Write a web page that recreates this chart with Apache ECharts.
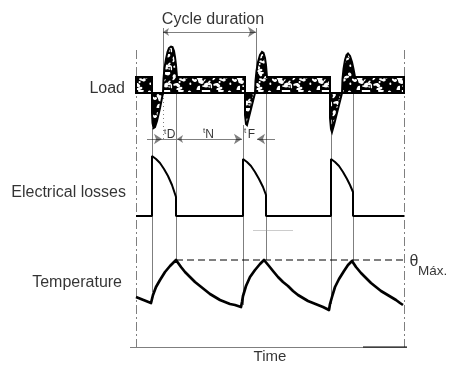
<!DOCTYPE html>
<html><head><meta charset="utf-8">
<script src="https://cdn.jsdelivr.net/npm/echarts@6/dist/echarts.min.js"></script>
<style>html,body{margin:0;padding:0;background:#fff}#c{width:451px;height:365px}</style>
</head><body><div id="c"></div>
<script>
// ---- data (time units along x; panel values along y) ----
const panelNames = ['Load', 'Electrical losses', 'Temperature'];
const timeLabel = 'Time';
const cycleLabel = 'Cycle duration';
const thetaLabel = ['θ', 'Máx.'];
const phaseLabels = [['t', 'D'], ['t', 'N'], ['t', 'F']];

// load profile (time, load); bar level 16, spikes at start/braking
const loadProfile = [
  [0,0],[0,16],[16,16],[16,0],
  [16,-20],[16.5,-30],[17.5,-35],[19,-34],[21,-28],[24,-15],[27,0],
  [27.5,14],[28.5,25],[30,34],[31.5,41],[33,45],[35,46.5],[36.5,46],[38,42],[39,36],[40,28],[41,16],
  [109,16],[109,0],
  [109,-22],[110,-31],[111,-32],[113,-24],[116,-12],[119,0],
  [119.5,12],[120.5,22],[122,31],[124,38],[126,41],[127.5,40],[129,35],[130,28],[131,16],
  [194,16],[194,0],
  [194,-25],[195,-36],[196,-39],[198,-32],[202,-16],[206,0],
  [206.5,14],[207.5,24],[209,33],[210.5,38],[212,39.5],[214,37],[216,31],[217.5,24],[219,16],
  [268,16],[268,0]
];
// electrical losses (time, losses)
const lossProfile = [
  [0,0],[16,0],[16,60],[20,57],[24,53],[28,47],[32,40],[36,31],[40,19],[40,0],
  [107,0],[107,57],[111,54],[115,50],[119,44],[123,37],[127,29],[130,21],[130,0],
  [195,0],[195,57],[199,54],[203,50],[207,44],[211,37],[214,31],[217,24],[217,0],
  [268,0]
];
// temperature (time, temperature)
const tempProfile = [
  [0,50],[15,44],[16,48],[17,52],[20,60],[24,67],[29,75],[34,81],[40,87],
  [45,80],[49,75],[54,70],[59,65],[64,61],[69,57],[74,53],[79,50],[84,47],[89,45],[94,43],[99,42],[105,40],
  [106,45],[107,51],[110,61],[114,70],[119,77],[124,83],[128,87],
  [133,81],[137,76],[142,70],[147,65],[152,61],[157,56],[162,52],[167,49],[172,46],[177,44],[182,42],[187,40],[193,37],
  [194,43],[196,50],[199,60],[203,68],[208,76],[212,82],[216,86],
  [220,80],[225,74],[230,69],[235,64],[240,60],[245,56],[250,53],[255,50],[260,47],[264,44],[267,42]
];
const thetaMax = 87;
const timeEnd = 268;
const cycleStart = 27, cycleEnd = 120;

// ---- layout of panels on the shared vertical axis ----
const LOAD_BASE = 254, LOSS_BASE = 131, TEMP_BASE = 0;

function makePattern() {
  const c = document.createElement('canvas'); c.width = 40; c.height = 18;
  const g = c.getContext('2d');
  g.fillStyle = '#000'; g.fillRect(0, 0, 40, 18);
  g.fillStyle = '#fff';
  let s = 7;
  const nx = () => { s = (s * 9301 + 49297) % 233280; return s / 233280; };
  for (let i = 0; i < 34; i++) {
    const x = nx() * 40, y = nx() * 18, w = 0.8 + nx() * 2.6, h = 0.6 + nx() * 1.8;
    g.beginPath(); g.ellipse(x, y, w, h, nx() * 3, 0, Math.PI * 2); g.fill();
  }
  return c;
}
const pattern = { image: makePattern(), repeat: 'repeat' };

const FONT = "'Liberation Sans', Arial, sans-serif";
const tempAt = t => {
  let best = tempProfile[0];
  tempProfile.forEach(p => { if (Math.abs(p[0] - t) < Math.abs(best[0] - t)) best = p; });
  return best[1];
};

const plain = [];
const solid = { color: '#000', width: 1, type: 'solid' };
const dashdot = { color: '#000', width: 1, type: [9, 3, 2, 3] };
plain.push({ coords: [[0, LOAD_BASE + 43], [0, 0]], lineStyle: dashdot });
plain.push({ coords: [[timeEnd, LOAD_BASE + 43], [timeEnd, 0]], lineStyle: dashdot });
plain.push({ coords: [[16, LOAD_BASE - 35], [16, TEMP_BASE + 55]], lineStyle: solid });
plain.push({ coords: [[cycleStart, LOAD_BASE + 65], [cycleStart, LOAD_BASE]], lineStyle: solid });
plain.push({ coords: [[cycleStart, LOAD_BASE - 1], [cycleStart, LOSS_BASE + 77]], lineStyle: { color: '#000', width: 1, type: [1, 3] } });
plain.push({ coords: [[40, LOAD_BASE - 1], [40, thetaMax]], lineStyle: solid });
plain.push({ coords: [[107, LOAD_BASE - 32], [107, tempAt(107) - 9]], lineStyle: solid });
plain.push({ coords: [[cycleEnd, LOAD_BASE + 65], [cycleEnd, LOAD_BASE]], lineStyle: solid });
plain.push({ coords: [[130, LOAD_BASE - 1], [130, thetaMax]], lineStyle: solid });
plain.push({ coords: [[195, LOAD_BASE - 39], [195, tempAt(195)]], lineStyle: solid });
plain.push({ coords: [[217, LOAD_BASE - 1], [217, 86]], lineStyle: solid });
plain.push({ coords: [[-6, 0], [271, 0]], lineStyle: { color: '#000', width: 1.2 } });
plain.push({ coords: [[227, 0], [271, 0]], lineStyle: { color: '#000', width: 2 } });
plain.push({ coords: [[117, 117], [157, 117]], lineStyle: { color: '#999', width: 1 } });
plain.push({ coords: [[26, LOSS_BASE + 77], [40, LOSS_BASE + 77]], lineStyle: solid });

const ARROW_Y = LOSS_BASE + 77;
const oneWay = [
  { coords: [[11, ARROW_Y], [26, ARROW_Y]] },
  { coords: [[139, ARROW_Y], [121, ARROW_Y]] }
];
const twoWay = [
  { coords: [[41, ARROW_Y], [106, ARROW_Y]] },
  { coords: [[cycleStart, LOAD_BASE + 61], [cycleEnd, LOAD_BASE + 61]] }
];

function txt(x, y, text, size, align) {
  return {
    value: [x, y],
    label: { show: true, position: 'inside', formatter: text, fontSize: size, align: align || 'center',
      verticalAlign: 'middle', color: '#000', fontFamily: FONT }
  };
}
const texts = [
  txt(-11, LOAD_BASE + 4, panelNames[0], 16, 'right'),
  txt(-10, LOSS_BASE + 23, panelNames[1], 16, 'right'),
  txt(-14, TEMP_BASE + 64, panelNames[2], 16, 'right'),
  txt(77, LOAD_BASE + 73, cycleLabel, 16),
  txt(134, -10, timeLabel, 15),
  txt(278, thetaMax - 2, thetaLabel[0], 16),
  txt(282, thetaMax - 11, thetaLabel[1], 13.5, 'left'),
  txt(29, LOSS_BASE + 84, phaseLabels[0][0], 8),
  txt(35, LOSS_BASE + 81, phaseLabels[0][1], 12),
  txt(68, LOSS_BASE + 85, phaseLabels[1][0], 8),
  txt(73.5, LOSS_BASE + 81, phaseLabels[1][1], 12),
  txt(109, LOSS_BASE + 85, phaseLabels[2][0], 8),
  txt(115.5, LOSS_BASE + 81, phaseLabels[2][1], 12)
];

const chart = echarts.init(document.getElementById('c'), null, { renderer: 'canvas' });
chart.setOption({
  animation: false,
  backgroundColor: '#fff',
  grid: { left: 0, right: 0, top: 0, bottom: 0 },
  xAxis: { type: 'value', min: -136, max: 315, show: false },
  yAxis: { type: 'value', min: -18, max: 347, show: false },
  series: [
    { type: 'lines', coordinateSystem: 'cartesian2d', symbol: 'none', z: 1, data: plain },
    {
      type: 'lines', coordinateSystem: 'cartesian2d', symbol: ['none', 'arrow'], symbolSize: [6, 8], z: 3,
      lineStyle: { color: '#000', width: 1 }, data: oneWay
    },
    {
      type: 'lines', coordinateSystem: 'cartesian2d', symbol: ['arrow', 'arrow'], symbolSize: [6, 8], z: 3,
      lineStyle: { color: '#000', width: 1 }, data: twoWay
    },
    {
      type: 'custom', z: 4,
      data: [[0, LOAD_BASE]],
      renderItem: function (params, api) {
        const pts = loadProfile.map(p => api.coord([p[0], LOAD_BASE + p[1]]));
        return { type: 'polygon', shape: { points: pts },
          style: { fill: pattern, stroke: '#000', lineWidth: 2, lineJoin: 'miter' } };
      }
    },
    {
      type: 'line', z: 4, showSymbol: false, symbol: 'none',
      data: lossProfile.map(p => [p[0], LOSS_BASE + p[1]]),
      lineStyle: { color: '#000', width: 2 }
    },
    {
      type: 'line', z: 4, showSymbol: false, symbol: 'none',
      data: tempProfile.map(p => [p[0], TEMP_BASE + p[1]]),
      lineStyle: { color: '#000', width: 2.7, join: 'round' }
    },
    {
      type: 'line', z: 2, showSymbol: false, symbol: 'none',
      data: [[40, TEMP_BASE + thetaMax], [timeEnd, TEMP_BASE + thetaMax]],
      lineStyle: { color: '#000', width: 1, type: [7, 4] }
    },
    { type: 'scatter', z: 6, symbolSize: 0, silent: true, data: texts }
  ]
});
</script>
</body></html>
